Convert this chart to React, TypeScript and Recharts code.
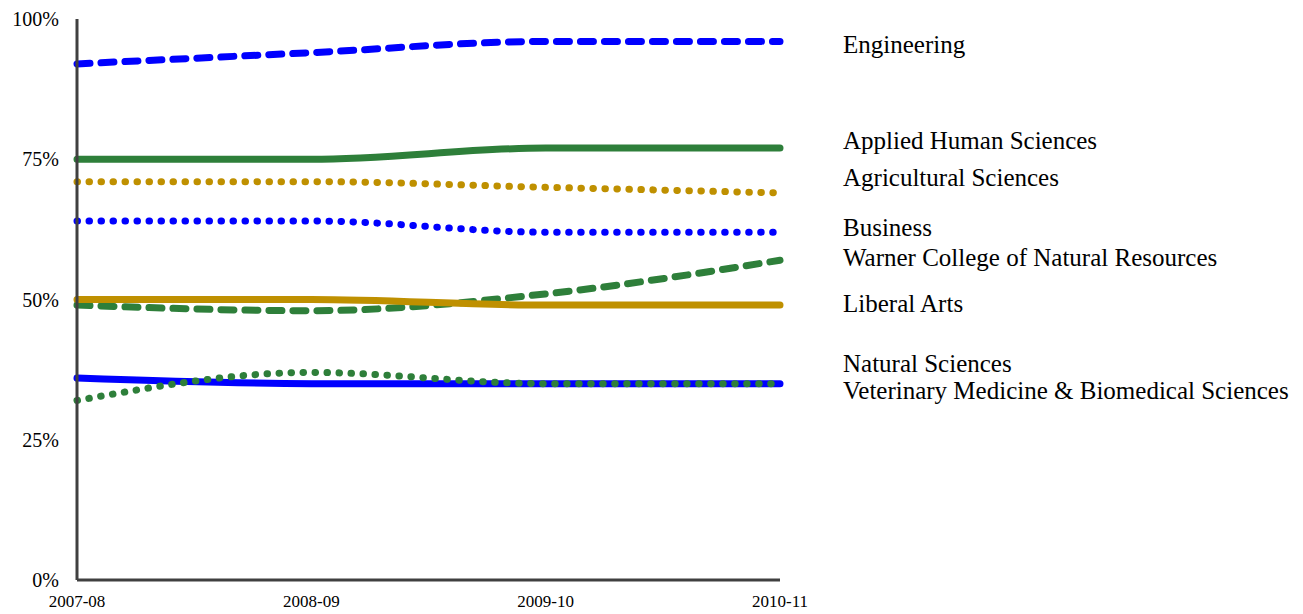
import React from "react";
import { LineChart, Line, XAxis, YAxis } from "recharts";

const years = ["2007-08", "2008-09", "2009-10", "2010-11"];
const engineering = [92, 94, 96, 96];
const appliedHuman = [75, 75, 77, 77];
const agricultural = [71, 71, 70, 69];
const business = [64, 64, 62, 62];
const warner = [49, 48, 51, 57];
const liberalArts = [50, 50, 49, 49];
const naturalSciences = [36, 35, 35, 35];
const vetMed = [32, 37, 35, 35];
const yTicks = [0, 25, 50, 75, 100];

const BLUE = "#0000FF";
const GREEN = "#2E7F3A";
const GOLD = "#BF9000";

const seriesNames = [
  "Engineering",
  "Applied Human Sciences",
  "Agricultural Sciences",
  "Business",
  "Warner College of Natural Resources",
  "Liberal Arts",
  "Natural Sciences",
  "Veterinary Medicine & Biomedical Sciences",
];
const seriesValues = [engineering, appliedHuman, agricultural, business, warner, liberalArts, naturalSciences, vetMed];
const seriesKeys = ["eng", "ahs", "agr", "bus", "war", "lib", "nat", "vet"];
const seriesColors = [BLUE, GREEN, GOLD, BLUE, GREEN, GOLD, BLUE, GREEN];
const seriesDash = ["dash", "solid", "dot", "dot", "dash", "solid", "solid", "dot"];
// label vertical positions (in % units on the y scale) for the right-hand labels
const labelLevels = [95.5, 78.3, 71.7, 62.8, 57.5, 49.3, 38.6, 33.8];

const data = years.map((y, i) => {
  const row: any = { year: y };
  seriesKeys.forEach((k, j) => (row[k] = seriesValues[j][i]));
  return row;
});

const FONT = "'Liberation Serif', 'DejaVu Serif', serif";
const W = 1303;
const H = 614;
const TOP = 19;
const BOTTOM = 580;

const dashArr = (d: string) =>
  d === "dash" ? "13 11" : d === "dot" ? "0.5 11.5" : undefined;

export default function App() {
  const yOf = (v: number) => BOTTOM - ((BOTTOM - TOP) * v) / 100;
  return (
    <div style={{ position: "absolute", left: 0, top: 0, width: W, height: H, background: "#fff" }}>
      <LineChart
        width={W}
        height={H}
        data={data}
        margin={{ top: TOP, right: W - 780, bottom: 0, left: 17 }}
      >
        <XAxis
          dataKey="year"
          stroke="#404040"
          strokeWidth={3}
          tickLine={false}
          height={H - BOTTOM}
          padding={{ left: 0, right: 0 }}
          tick={{ fill: "#000", fontFamily: FONT, fontSize: 17 }}
          tickMargin={9}
          interval={0}
        />
        <YAxis
          domain={[0, 100]}
          ticks={yTicks}
          width={60}
          stroke="#404040"
          strokeWidth={3}
          tickLine={false}
          tickFormatter={(v: number) => `${v}%`}
          tick={{ fill: "#000", fontFamily: FONT, fontSize: 20 }}
          tickMargin={12}
        />
        {seriesKeys.map((k, j) => (
          <Line
            key={k}
            dataKey={k}
            type="monotone"
            stroke={seriesColors[j]}
            strokeWidth={7}
            strokeDasharray={dashArr(seriesDash[j])}
            strokeLinecap="round"
            dot={false}
            activeDot={false}
            isAnimationActive={false}
          />
        ))}
      </LineChart>
      <svg width={W} height={H} style={{ position: "absolute", left: 0, top: 0, pointerEvents: "none" }}>
        {seriesNames.map((n, j) => (
          <text
            key={n}
            x={843}
            y={yOf(labelLevels[j])}
            dominantBaseline="central"
            fontFamily={FONT}
            fontSize={25}
            fill="#000"
          >
            {n}
          </text>
        ))}
      </svg>
    </div>
  );
}
